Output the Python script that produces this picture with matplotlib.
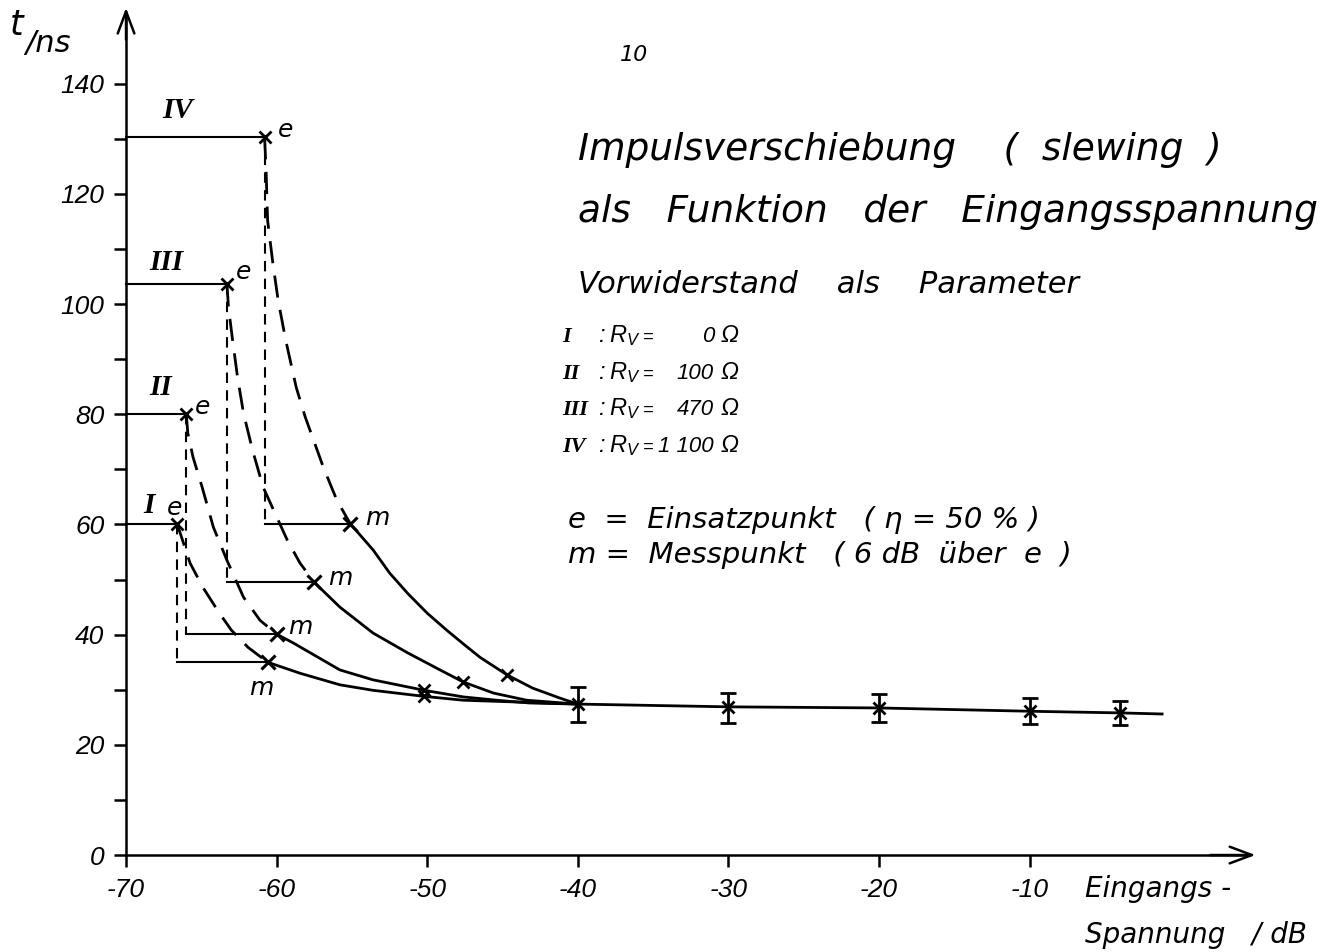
import matplotlib
matplotlib.use("Agg")
import matplotlib.pyplot as plt

plt.rcParams['font.family'] = ['DejaVu Sans']
plt.rcParams['font.style'] = 'italic'
plt.rcParams['mathtext.fontset'] = 'custom'
plt.rcParams['mathtext.it'] = 'Liberation Sans:italic'
plt.rcParams['mathtext.rm'] = 'Liberation Sans:italic'

# ---- data ----
roman = ['I', 'II', 'III', 'IV']
rv_values = ['0', '100', '470', '1 100']

# e = Einsatzpunkt, m = Messpunkt
e_x = [-66.6, -66.0, -63.3, -60.8]
e_y = [60.0, 80.0, 103.6, 130.3]
m_x = [-60.6, -60.0, -57.5, -55.1]
m_y = [35.0, 40.1, 49.5, 60.1]

# dashed part of each curve (e -> m)
dash_x = [
    [-66.6, -66.4, -65.75, -64.9, -63.8, -63.0, -61.9, -60.6],
    [-66.0, -65.9, -65.55, -64.95, -64.2, -63.3, -62.2, -61.1, -60.0],
    [-63.3, -63.2, -62.95, -62.6, -62.2, -61.6, -60.9, -60.2, -59.3, -58.45, -57.5],
    [-60.8, -60.7, -60.6, -60.25, -59.9, -59.4, -58.7, -58.1, -56.9, -56.0, -55.1],
]
dash_y = [
    [60.0, 58.4, 53.0, 48.6, 43.9, 40.8, 37.7, 35.0],
    [80.0, 76.6, 72.2, 66.8, 59.5, 53.5, 46.8, 42.6, 40.1],
    [103.6, 99.5, 94.0, 86.8, 80.2, 73.5, 66.8, 62.6, 57.2, 53.0, 49.5],
    [130.3, 124.3, 115.2, 107.4, 100.7, 93.5, 84.9, 79.5, 70.4, 64.4, 60.1],
]

# solid part of each curve (m -> -40 dB)
solid_x = [
    [-60.6, -58.45, -55.8, -53.6, -50.2, -47.6, -44.3, -41.0, -40.0],
    [-60.0, -58.9, -55.8, -53.6, -50.2, -47.6, -45.4, -43.2, -40.0],
    [-57.5, -55.8, -53.6, -51.3, -49.15, -47.6, -45.6, -43.4, -40.5, -40.0],
    [-55.1, -53.6, -52.5, -51.3, -50.0, -48.7, -47.5, -46.5, -44.7, -43.0, -41.2, -40.0],
]
solid_y = [
    [35.0, 33.0, 30.9, 29.9, 28.8, 28.1, 27.8, 27.5, 27.4],
    [40.1, 38.5, 33.6, 31.8, 29.9, 28.7, 28.1, 27.6, 27.4],
    [49.5, 45.0, 40.3, 36.7, 33.6, 31.4, 29.4, 28.1, 27.5, 27.4],
    [60.1, 55.4, 51.2, 47.5, 43.9, 40.8, 38.1, 35.9, 32.7, 30.3, 28.5, 27.4],
]

# extra measured points on the solid parts
mid_x = [-50.2, -50.2, -47.6, -44.7]
mid_y = [28.8, 29.9, 31.4, 32.7]

# common branch with error bars
common_x = [-40, -30, -20, -10, -4]
common_y = [27.4, 26.9, 26.7, 26.1, 25.8]
common_lo = [24.1, 24.0, 24.1, 23.8, 23.6]
common_hi = [30.5, 29.4, 29.2, 28.5, 28.0]
common_line_x = [-40, -30, -20, -10, -4, -1.2]
common_line_y = [27.4, 26.9, 26.7, 26.1, 25.8, 25.6]

x_ticks = [-70, -60, -50, -40, -30, -20, -10]
x_ticklabels = ['-70', '-60', '-50', '-40', '-30', '-20', '-10']
y_ticks = list(range(0, 150, 10))
y_ticklabels = [str(v) if v % 20 == 0 else '' for v in y_ticks]

# ---- figure ----
fig = plt.figure(figsize=(13.41, 9.52), dpi=100)
ax = fig.add_axes([0, 0, 1, 1])
ax.set_xlim(-78.37, 10.68)
ax.set_ylim(-17.6, 155.2)

for s in ['top', 'right']:
    ax.spines[s].set_visible(False)
ax.spines['left'].set_position(('data', -70))
ax.spines['bottom'].set_position(('data', 0))
ax.spines['left'].set_bounds(0, 152)
ax.spines['bottom'].set_bounds(-70, 4.5)
for s in ['left', 'bottom']:
    ax.spines[s].set_linewidth(1.8)

ax.set_xticks(x_ticks, x_ticklabels)
ax.set_yticks(y_ticks, y_ticklabels)
ax.tick_params(direction='out', length=8.6, width=1.8, labelsize=19)
ax.tick_params(axis='y', pad=7)
ax.tick_params(axis='x', pad=8)
for lbl in ax.get_xticklabels() + ax.get_yticklabels():
    lbl.set_family('Liberation Sans')

arrow = dict(arrowstyle='->,head_length=0.8,head_width=0.3', lw=1.8, color='k',
             shrinkA=0, shrinkB=0, mutation_scale=20)
ax.annotate('', xy=(5.0, 0), xytext=(2.0, 0), arrowprops=arrow)
ax.annotate('', xy=(-70, 153.8), xytext=(-70, 148), arrowprops=arrow)

for i in range(4):
    # level line from axis to e
    ax.plot([-70, e_x[i]], [e_y[i], e_y[i]], color='k', lw=1.5)
    # short-dashed drop from e to m level, then solid step to m
    ax.plot([e_x[i], e_x[i]], [e_y[i], m_y[i]], color='k', lw=1.5,
            linestyle=(0, (5, 3.5)))
    ax.plot([e_x[i], m_x[i]], [m_y[i], m_y[i]], color='k', lw=1.5)
    # the curve itself
    ax.plot(dash_x[i], dash_y[i], color='k', lw=2.0, linestyle=(0, (8, 4.5)))
    ax.plot(solid_x[i], solid_y[i], color='k', lw=2.0)

ax.plot(e_x, e_y, 'kx', ms=9, mew=2)
ax.plot(m_x, m_y, 'kx', ms=10, mew=2.2)
ax.plot(mid_x, mid_y, 'kx', ms=9, mew=2)

ax.plot(common_line_x, common_line_y, color='k', lw=2.0)
ax.errorbar(common_x, common_y,
            yerr=[[c - lo for c, lo in zip(common_y, common_lo)],
                  [hi - c for c, hi in zip(common_y, common_hi)]],
            fmt='kx', ms=9, mew=2, elinewidth=2, capsize=6, capthick=2)

# ---- labels on the curves ----
serif = dict(family='Liberation Serif', weight='bold', style='italic')
roman_pos = [(-68.5, 63.5), (-67.7, 84.8), (-67.3, 107.6), (-66.6, 135.2)]
for r, (x, y) in zip(roman, roman_pos):
    ax.text(x, y, r, ha='center', va='center', fontsize=21, **serif)
e_pos = [(-66.75, 63.0), (-64.9, 81.3), (-62.2, 105.8), (-59.4, 131.6)]
for x, y in e_pos:
    ax.text(x, y, 'e', ha='center', va='center', fontsize=18)
m_pos = [(-61.0, 30.3), (-58.45, 41.4), (-55.8, 50.3), (-53.3, 61.2)]
for x, y in m_pos:
    ax.text(x, y, 'm', ha='center', va='center', fontsize=18)

# axis titles
ax.text(-77.7, 148.8, 't', fontsize=25, ha='left', va='baseline')
ax.text(-76.7, 145.7, '/ns', fontsize=22, ha='left', va='baseline')
ax.text(-6.32, -7.6, 'Eingangs -', fontsize=20, ha='left', va='baseline')
ax.text(-6.32, -16.0, 'Spannung   / dB', fontsize=20, ha='left', va='baseline')

# page number
ax.text(-36.27, 145.2, '10', fontsize=16, ha='center', va='center')

# title block
ax.text(-40.0, 126.1, 'Impulsverschiebung    (  slewing  )', fontsize=27,
        ha='left', va='baseline')
ax.text(-40.0, 114.9, 'als   Funktion   der   Eingangsspannung', fontsize=27,
        ha='left', va='baseline')
ax.text(-40.0, 102.0, 'Vorwiderstand    als    Parameter', fontsize=22,
        ha='left', va='baseline')
rows_y = [93.1, 86.4, 79.9, 73.1]
row_font = dict(family='Liberation Sans', fontsize=17, va='baseline')
for r, v, y in zip(roman, rv_values, rows_y):
    ax.text(-41.05, y, r, ha='left', va='baseline', fontsize=16, **serif)
    ax.text(-38.66, y, ':', ha='left', **row_font)
    ax.text(-37.9, y, '$R_V$', ha='left', **row_font)
    ax.text(-35.67, y, '=', ha='left', family='Liberation Sans', fontsize=13,
            va='baseline')
    ax.text(-30.96, y, v, ha='right', family='Liberation Sans', fontsize=16,
            va='baseline')
    ax.text(-30.5, y, 'Ω', ha='left', **row_font)
ax.text(-40.65, 59.35, 'e  =  Einsatzpunkt   ( η = 50 % )', fontsize=21,
        ha='left', va='baseline')
ax.text(-40.65, 53.0, 'm =  Messpunkt   ( 6 dB  über  e  )', fontsize=21,
        ha='left', va='baseline')

fig.savefig('out.png', dpi=100)
